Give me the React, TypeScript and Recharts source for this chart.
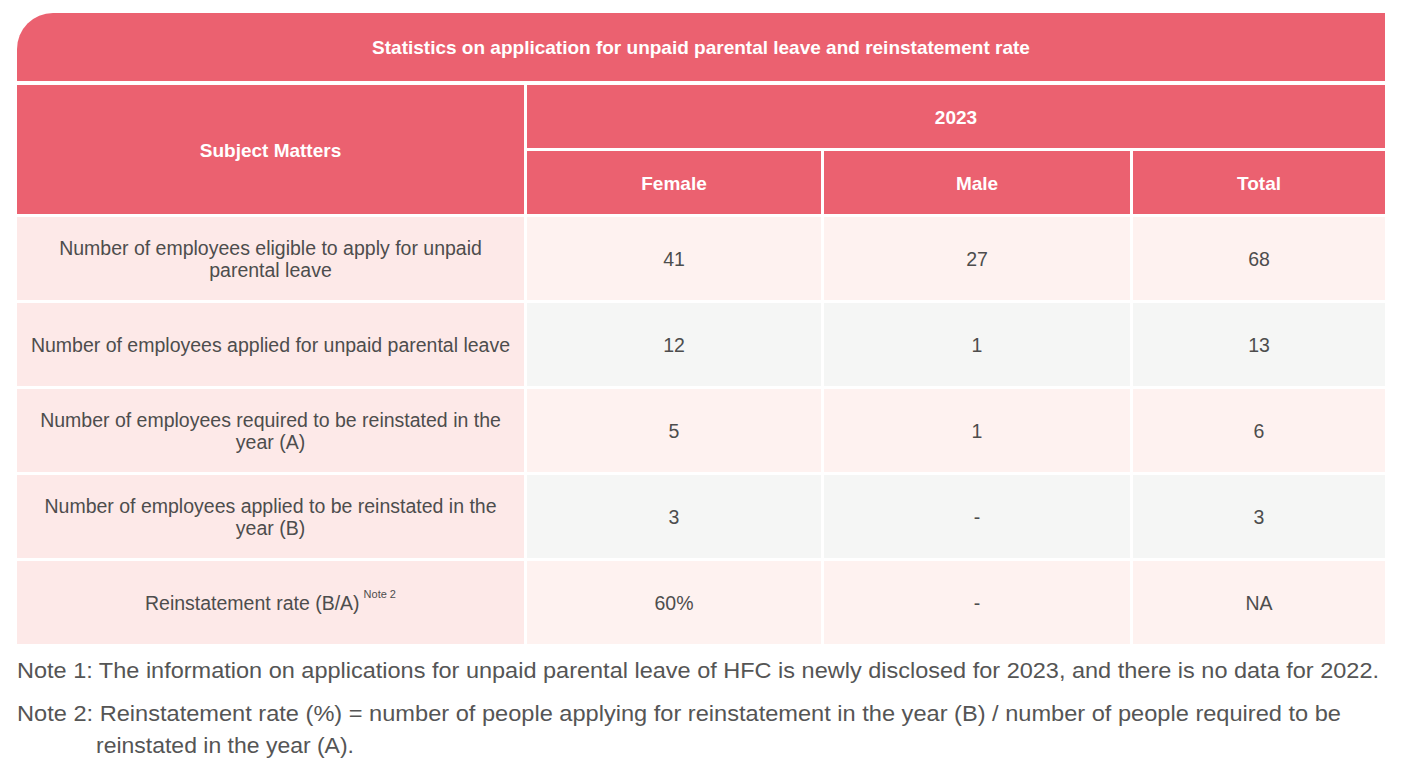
import React from "react";
import { ComposedChart, Bar, XAxis, YAxis, Customized } from "recharts";

const title = "Statistics on application for unpaid parental leave and reinstatement rate";
const subjectHeader = "Subject Matters";
const yearHeader = "2023";
const genders = ["Female", "Male", "Total"];

const subjects = [
  ["Number of employees eligible to apply for unpaid", "parental leave"],
  ["Number of employees applied for unpaid parental leave"],
  ["Number of employees required to be reinstated in the", "year (A)"],
  ["Number of employees applied to be reinstated in the", "year (B)"],
  ["Reinstatement rate (B/A)"],
];
const subjectNotes = ["", "", "", "", "Note 2"];
const female = ["41", "12", "5", "3", "60%"];
const male = ["27", "1", "1", "-", "-"];
const total = ["68", "13", "6", "3", "NA"];

const notes = [
  ["Note 1: The information on applications for unpaid parental leave of HFC is newly disclosed for 2023, and there is no data for 2022."],
  [
    "Note 2: Reinstatement rate (%) = number of people applying for reinstatement in the year (B) / number of people required to be",
    "reinstated in the year (A).",
  ],
];

const rows = subjects.map((lines, i) => ({
  subject: lines.join(" "),
  lines,
  note: subjectNotes[i],
  values: [female[i], male[i], total[i]],
}));

// layout
const W = 1404;
const H = 770;
const LEFT = 17;
const GAP = 3;
const COLS = [507, 294, 306, 252];
const COL_X = COLS.map((_, i) => LEFT + COLS.slice(0, i).reduce((a, b) => a + b + GAP, 0));
const RIGHT = COL_X[3] + COLS[3];
// note line placement: [x, y, textLength]
const NOTE_POS = [
  [[17, 670.5, 1362]],
  [[17, 714, 1324], [96, 745.5, 258]],
];

const HEAD = "#eb6170";
const LABEL_BG = "#fde9e8";
const PINK = "#fef2f0";
const GREY = "#f5f6f5";
const TEXT = "#4d4d4d";
const FONT = "'Liberation Sans', Arial, Helvetica, sans-serif";

const Header = () => {
  const r = 36;
  const bold = { fill: "#fff", fontFamily: FONT, fontWeight: 700, fontSize: 19, textAnchor: "middle" as const, dominantBaseline: "central" as const };
  return (
    <g>
      <path d={`M${LEFT},81 L${LEFT},${13 + r} A${r},${r} 0 0 1 ${LEFT + r},13 L${RIGHT},13 L${RIGHT},81 Z`} fill={HEAD} />
      <text x={(LEFT + RIGHT) / 2} y={47} {...bold}>{title}</text>
      <rect x={COL_X[0]} y={85} width={COLS[0]} height={129} fill={HEAD} />
      <text x={COL_X[0] + COLS[0] / 2} y={150} {...bold}>{subjectHeader}</text>
      <rect x={COL_X[1]} y={85} width={RIGHT - COL_X[1]} height={63} fill={HEAD} />
      <text x={(COL_X[1] + RIGHT) / 2} y={117} {...bold}>{yearHeader}</text>
      {genders.map((g, i) => (
        <g key={g}>
          <rect x={COL_X[i + 1]} y={151} width={COLS[i + 1]} height={63} fill={HEAD} />
          <text x={COL_X[i + 1] + COLS[i + 1] / 2} y={183} {...bold}>{g}</text>
        </g>
      ))}
      {notes.map((lines, n) =>
        lines.map((line, k) => {
          const [x, y, len] = NOTE_POS[n][k];
          return (
            <text
              key={`${n}-${k}`}
              x={x}
              y={y}
              fontSize={21.5}
              fill="#555"
              fontFamily={FONT}
              dominantBaseline="central"
              textLength={len}
              lengthAdjust="spacingAndGlyphs"
            >
              {line}
            </text>
          );
        })
      )}
    </g>
  );
};

const RowShape = (props: any) => {
  const { y, height, payload, index } = props;
  const cy = y + height / 2;
  const bg = index % 2 === 0 ? PINK : GREY;
  const lines: string[] = payload.lines;
  const txt = { fill: TEXT, fontFamily: FONT, fontSize: 19.5, textAnchor: "middle" as const, dominantBaseline: "central" as const };
  return (
    <g>
      <rect x={COL_X[0]} y={y} width={COLS[0]} height={height} fill={LABEL_BG} />
      {lines.map((l, k) => (
        <text key={k} x={COL_X[0] + COLS[0] / 2} y={cy + (k - (lines.length - 1) / 2) * 22} {...txt}>
          {l}
          {payload.note && k === lines.length - 1 ? (
            <tspan dx={4} dy={-9} fontSize={11}>{payload.note}</tspan>
          ) : null}
        </text>
      ))}
      {payload.values.map((v: string, c: number) => (
        <g key={c}>
          <rect x={COL_X[c + 1]} y={y} width={COLS[c + 1]} height={height} fill={bg} />
          <text x={COL_X[c + 1] + COLS[c + 1] / 2} y={cy} {...txt}>{v}</text>
        </g>
      ))}
    </g>
  );
};

export default function App() {
  return (
    <div style={{ position: "absolute", left: 0, top: 0, width: W, height: H, background: "#fff" }}>
      <ComposedChart
        width={W}
        height={H}
        data={rows}
        layout="vertical"
        barCategoryGap={1.5}
        margin={{ top: 215.5, bottom: H - 645.5, left: LEFT, right: W - RIGHT }}
      >
        <XAxis type="number" domain={[0, 1]} hide />
        <YAxis type="category" dataKey="subject" hide />
        <Bar dataKey={() => 1} shape={<RowShape />} isAnimationActive={false} />
        <Customized component={<Header />} />
      </ComposedChart>
    </div>
  );
}
